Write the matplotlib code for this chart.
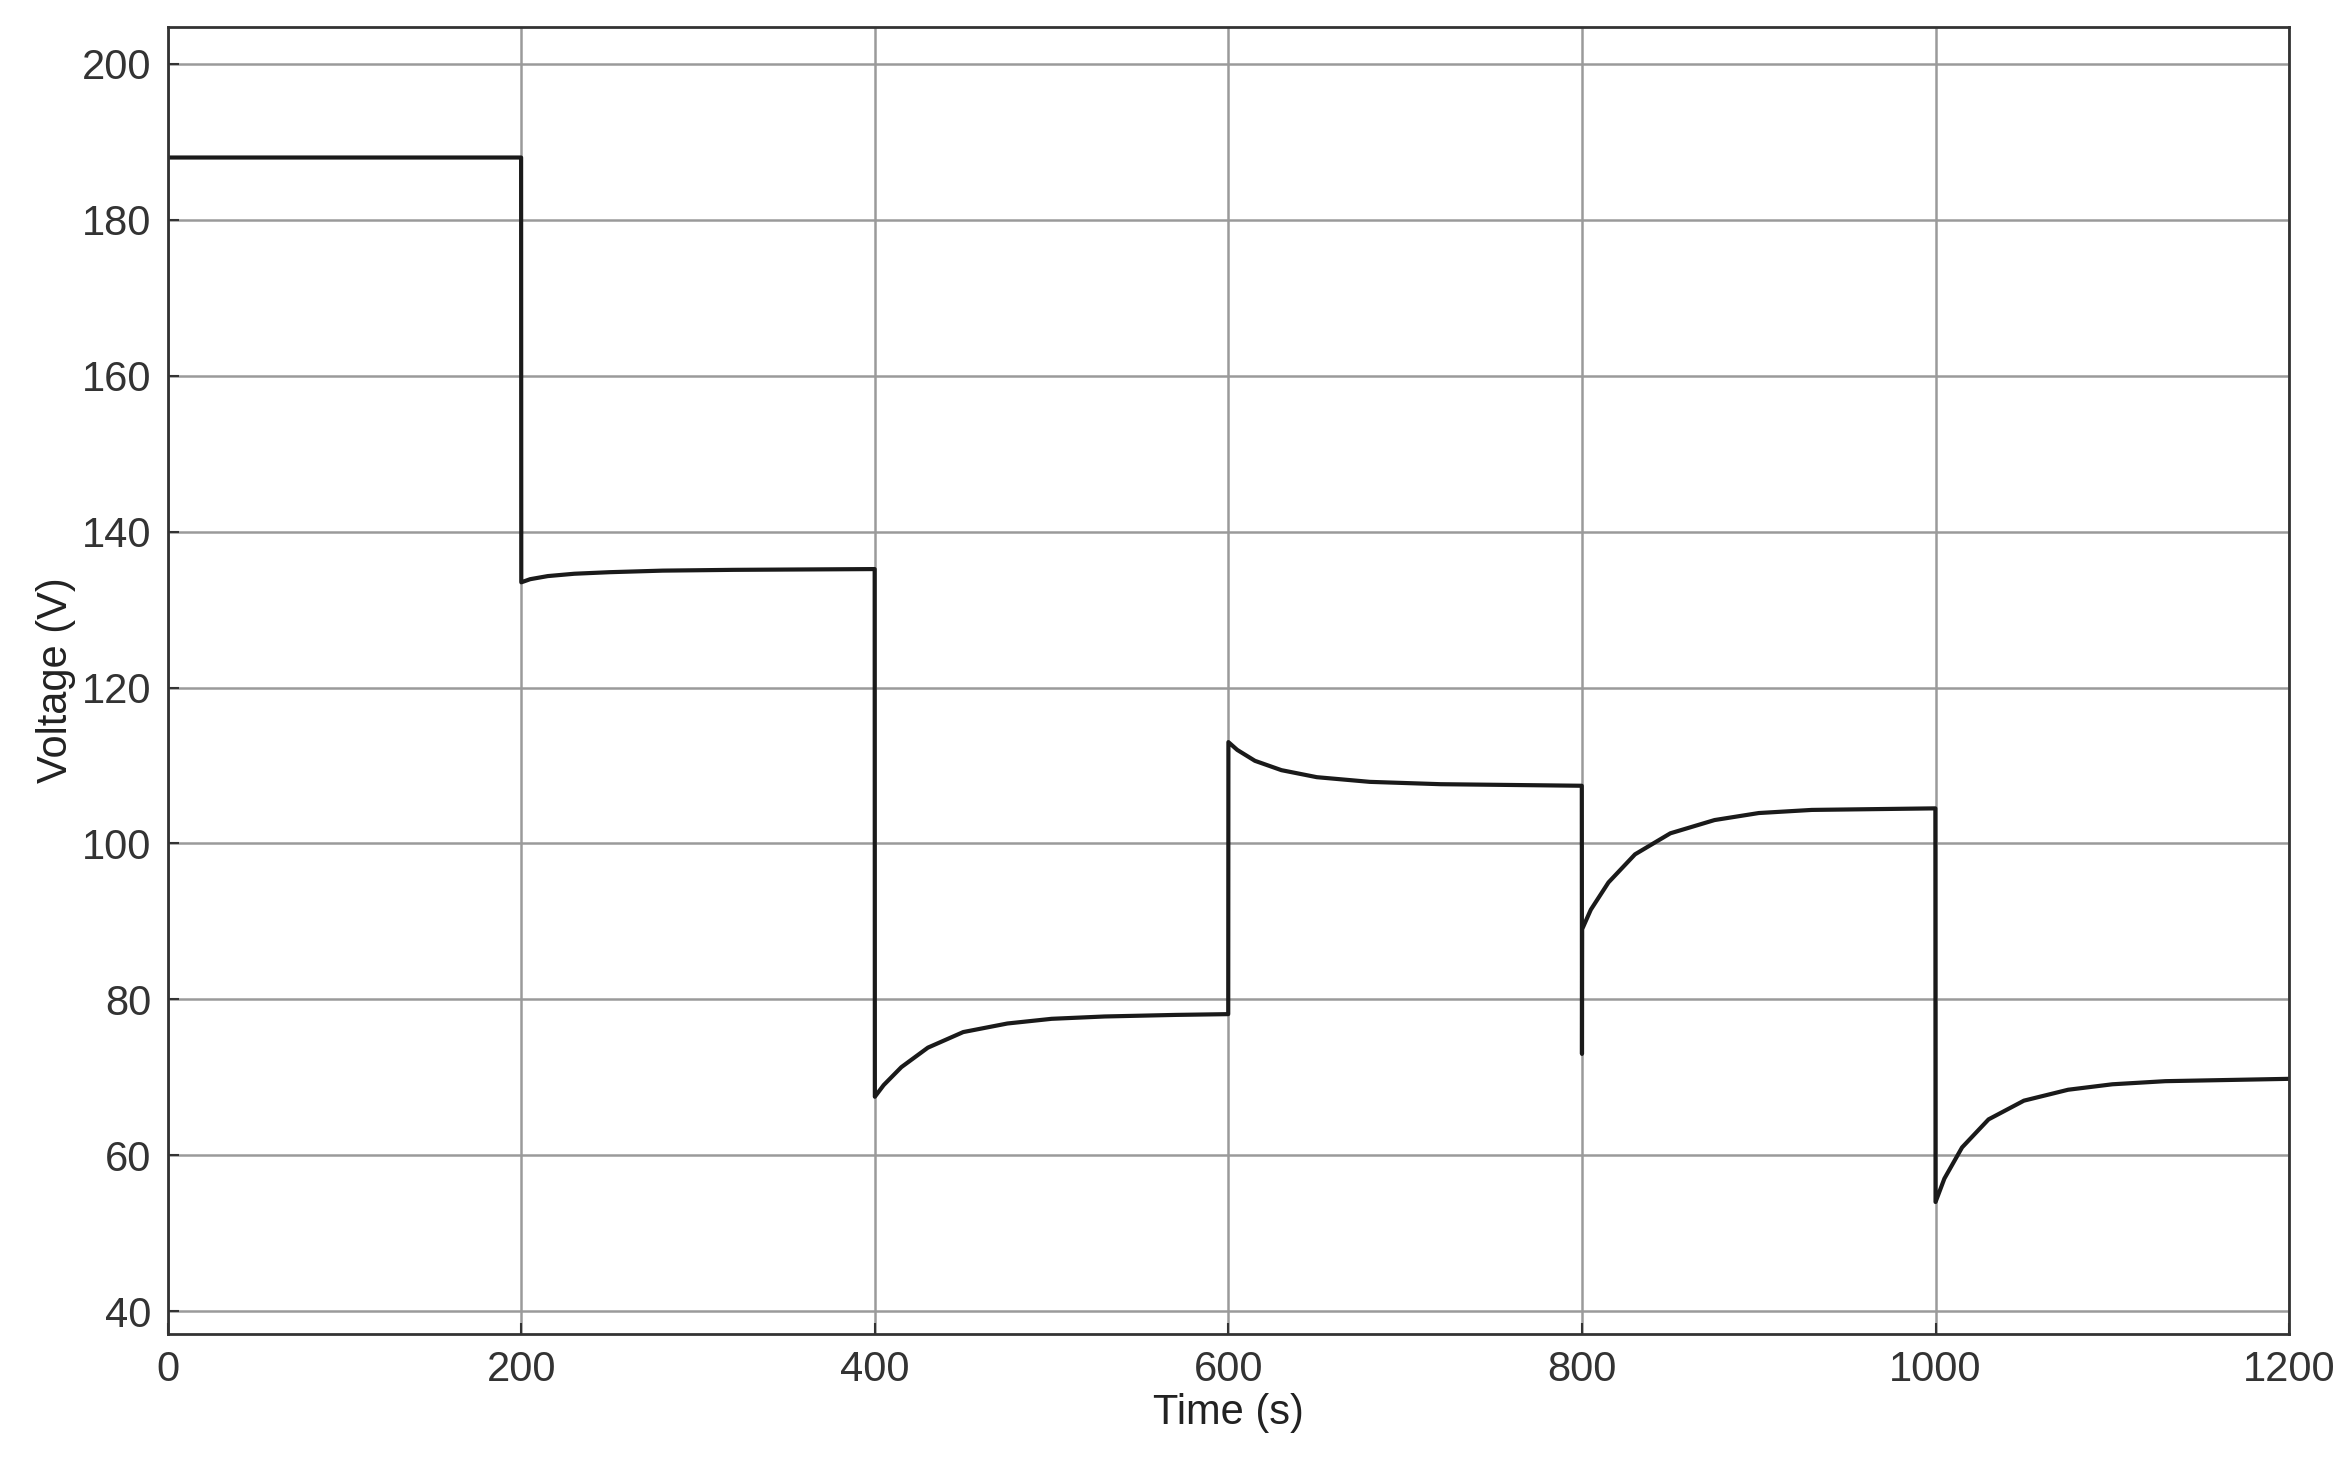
import matplotlib
matplotlib.use("Agg")
import matplotlib.pyplot as plt

time_s = [0, 199.9, 200, 205, 215, 230, 250, 280, 320, 399.9,
          400, 405, 415, 430, 450, 475, 500, 530, 570, 599.9,
          600, 605, 615, 630, 650, 680, 720, 799.9,
          800, 800.1, 805, 815, 830, 850, 875, 900, 930, 999.9,
          1000, 1005, 1015, 1030, 1050, 1075, 1100, 1130, 1200]
voltage = [188, 188, 133.5, 133.9, 134.3, 134.6, 134.8, 135.0, 135.1, 135.2,
           67.5, 69.0, 71.3, 73.8, 75.8, 76.9, 77.5, 77.8, 78.0, 78.1,
           113, 112.0, 110.6, 109.4, 108.5, 107.9, 107.6, 107.4,
           73, 89, 91.5, 95.0, 98.6, 101.3, 103.0, 103.9, 104.3, 104.5,
           54, 57.0, 61.0, 64.6, 67.0, 68.4, 69.1, 69.5, 69.8]

xticks = [0, 200, 400, 600, 800, 1000, 1200]
yticks = [40, 60, 80, 100, 120, 140, 160, 180, 200]

plt.rcParams['font.family'] = ['Liberation Sans', 'DejaVu Sans']
fig = plt.figure(figsize=(23.49, 14.76), dpi=100)
ax = fig.add_axes([0.0714, 0.0964, 0.9031, 0.8856])
ax.plot(time_s, voltage, color='#1a1a1a', lw=3)
ax.set_xlim(0, 1200)
ax.set_ylim(37.1, 204.8)
ax.set_xticks(xticks)
ax.set_yticks(yticks)
ax.grid(True, color='#9a9a9a', lw=1.8)
ax.tick_params(labelsize=30, length=8, width=1.5, direction='in', colors='#333333', pad=12)
for s in ax.spines.values():
    s.set_color('#333333'); s.set_linewidth(2)
ax.set_xlabel('Time (s)', fontsize=30, color='#222222', labelpad=2)
ax.set_ylabel('Voltage (V)', fontsize=30, color='#222222', labelpad=4)
fig.savefig('out.png', dpi=100)
